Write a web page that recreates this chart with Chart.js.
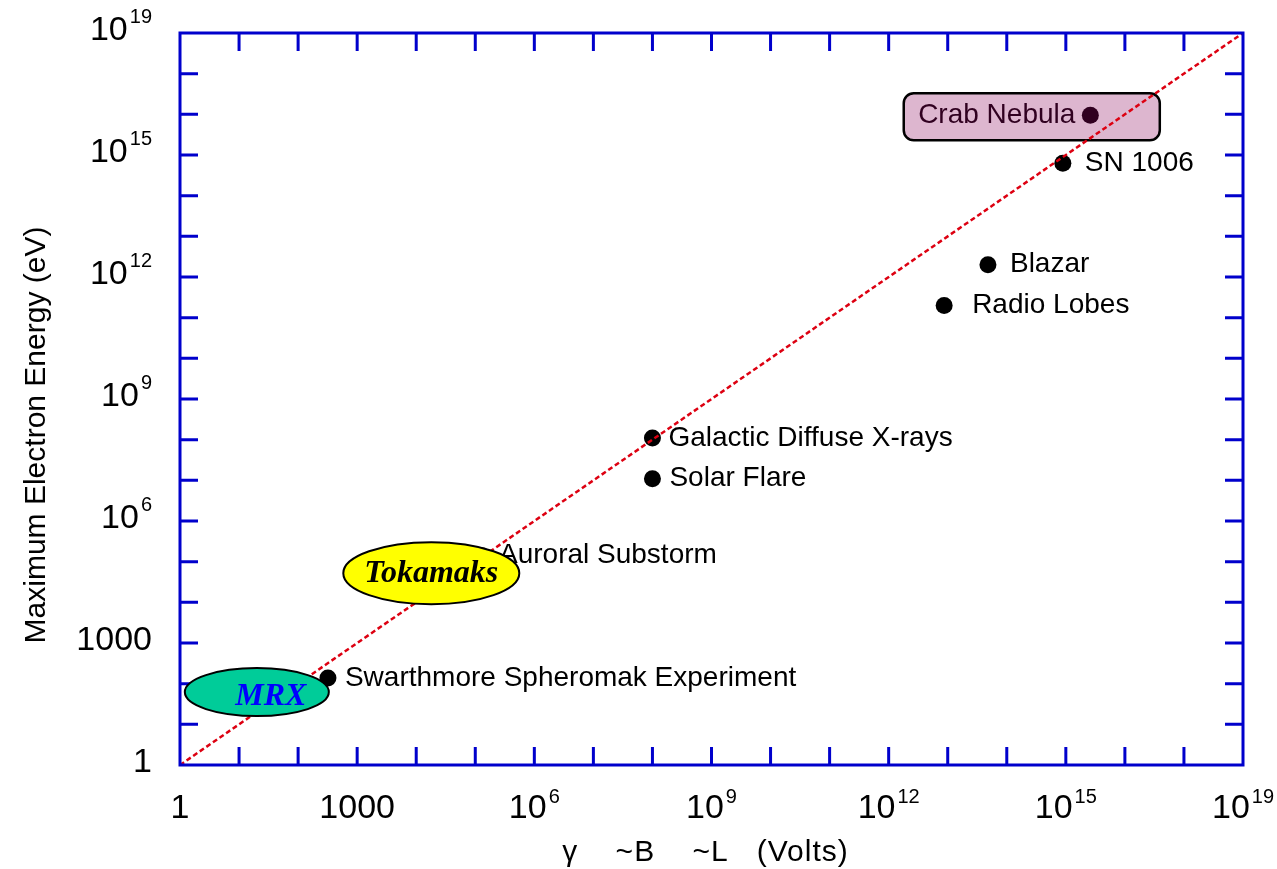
<!DOCTYPE html>
<html>
<head>
<meta charset="utf-8">
<script src="https://cdn.jsdelivr.net/npm/chart.js@4.4.1/dist/chart.umd.min.js"></script>
<style>
  html, body { margin: 0; padding: 0; background: #fff; }
  canvas { display: block; }
</style>
</head>
<body>
<canvas id="chart" width="1277" height="869"></canvas>
<script>
// ── Data ──────────────────────────────────────────────────────────
const sourceNames  = ['Crab Nebula', 'SN 1006', 'Blazar', 'Radio Lobes',
                      'Galactic Diffuse X-rays', 'Solar Flare', 'Auroral Substorm',
                      'Swarthmore Spheromak Experiment'];
const sourceVolts  = [2.6e15, 8.9e14, 4.8e13, 8.7e12, 1.0e8, 1.0e8, 1.3e5, 320];
const sourceEnergy = [9.5e15, 6.3e14, 2.0e12, 2.0e11, 1.1e8, 1.1e7, 1.4e5, 138];

const diagonalX = [1, 1e18];
const diagonalY = [1, 1e18];

const tickValues = [1, 1e3, 1e6, 1e9, 1e12, 1e15, 1e18];
const tickBase   = ['1', '1000', '10', '10', '10', '10', '10'];
const tickExp    = ['', '', '6', '9', '12', '15', '19'];

const xTitle = 'γ    ~B    ~L   (Volts)';
const yTitle = 'Maximum Electron Energy (eV)';

// ── Annotations (placed in data units) ────────────────────────────
const ellipses = [
    { text: 'Tokamaks', x: 1.8e4, y: 5.2e4, rx: 88, ry: 31, fill: '#ffff00', color: '#000', dx: 0, dy: 1 },
    { text: 'MRX',      x: 20,    y: 62,    rx: 72, ry: 24, fill: '#00cc99', color: '#0000ff', dx: 14, dy: 5 },
];
const crabBox = { x0: 1.8e12, x1: 3.9e16, y0: 3.3e16, y1: 2.3e15 };

// ── Style ─────────────────────────────────────────────────────────
const frameColor = '#0000cc';
const sansFont   = '"Liberation Sans", Arial, sans-serif';
const labelDx    = [-15, 22, 22, 28, 16, 17, 17, 17];

const overlay = {
    id: 'overlay',
    beforeDatasetsDraw(chart) {
        const { ctx, scales: { x, y } } = chart;
        const l = x.getPixelForValue(crabBox.x0), r = x.getPixelForValue(crabBox.x1);
        const t = y.getPixelForValue(crabBox.y0), b = y.getPixelForValue(crabBox.y1);
        ctx.save();
        ctx.beginPath();
        ctx.roundRect(l, t, r - l, b - t, 10);
        ctx.fillStyle = '#ddb6cf';
        ctx.fill();
        ctx.lineWidth = 2.5;
        ctx.strokeStyle = '#000';
        ctx.stroke();
        ctx.restore();
    },
    afterDatasetDraw(chart, args) {
        if (args.index !== 1) return;
        const ctx = chart.ctx;
        const meta = chart.getDatasetMeta(1);
        ctx.save();
        ctx.font = '28px ' + sansFont;
        ctx.textBaseline = 'middle';
        meta.data.forEach((pt, i) => {
            const dx = labelDx[i];
            ctx.textAlign = dx < 0 ? 'right' : 'left';
            ctx.fillStyle = i === 0 ? '#300020' : '#000';
            ctx.fillText(sourceNames[i], pt.x + dx, pt.y);
        });
        ctx.restore();
    },
    afterDatasetsDraw(chart) {
        const { ctx, chartArea: a, scales: { x, y } } = chart;
        ctx.save();

        // frame + inward decade ticks
        ctx.strokeStyle = frameColor;
        ctx.lineWidth = 3;
        ctx.strokeRect(a.left, a.top, a.right - a.left, a.bottom - a.top);
        ctx.beginPath();
        for (let e = 1; e < 18; e++) {
            const v = Math.pow(10, e);
            const px = x.getPixelForValue(v), py = y.getPixelForValue(v);
            ctx.moveTo(px, a.bottom); ctx.lineTo(px, a.bottom - 18);
            ctx.moveTo(px, a.top);    ctx.lineTo(px, a.top + 18);
            ctx.moveTo(a.left, py);   ctx.lineTo(a.left + 18, py);
            ctx.moveTo(a.right, py);  ctx.lineTo(a.right - 18, py);
        }
        ctx.stroke();

        // callout ellipses (over line and ticks)
        ellipses.forEach(e => {
            const cx = x.getPixelForValue(e.x), cy = y.getPixelForValue(e.y);
            ctx.beginPath();
            ctx.ellipse(cx, cy, e.rx, e.ry, 0, 0, Math.PI * 2);
            ctx.fillStyle = e.fill;
            ctx.fill();
            ctx.lineWidth = 2;
            ctx.strokeStyle = '#000';
            ctx.stroke();
            ctx.font = 'bold italic 32px "Liberation Serif", "Times New Roman", serif';
            ctx.fillStyle = e.color;
            ctx.textAlign = 'center';
            ctx.textBaseline = 'middle';
            ctx.fillText(e.text, cx + e.dx, cy + e.dy);
        });

        // tick labels with superscripts
        const baseFont = '34px ' + sansFont, expFont = '20px ' + sansFont;
        ctx.fillStyle = '#000';
        tickValues.forEach((v, i) => {
            ctx.font = baseFont;
            const wb = ctx.measureText(tickBase[i]).width;
            ctx.font = expFont;
            const we = tickExp[i] ? ctx.measureText(tickExp[i]).width + 2 : 0;
            const total = wb + we;

            // x axis
            const px = x.getPixelForValue(v);
            let sx = px - total / 2;
            ctx.textAlign = 'left';
            ctx.textBaseline = 'middle';
            ctx.font = baseFont;
            ctx.fillText(tickBase[i], sx, a.bottom + 44);
            if (tickExp[i]) {
                ctx.font = expFont;
                ctx.textBaseline = 'alphabetic';
                ctx.fillText(tickExp[i], sx + wb + 2, a.bottom + 38);
            }

            // y axis
            const py = y.getPixelForValue(v);
            sx = a.left - 28 - total;
            ctx.textBaseline = 'middle';
            ctx.font = baseFont;
            ctx.fillText(tickBase[i], sx, py - 2);
            if (tickExp[i]) {
                ctx.font = expFont;
                ctx.textBaseline = 'alphabetic';
                ctx.fillText(tickExp[i], sx + wb + 2, py - 10);
            }
        });

        // axis titles
        ctx.font = '30px ' + sansFont;
        ctx.textAlign = 'center';
        ctx.textBaseline = 'middle';
        ctx.letterSpacing = '1px';
        ctx.fillText(xTitle, (a.left + a.right) / 2 - 6, a.bottom + 88);
        ctx.letterSpacing = '0px';
        ctx.translate(37, 435);
        ctx.rotate(-Math.PI / 2);
        ctx.fillText(yTitle, 0, 0);
        ctx.restore();
    }
};

new Chart(document.getElementById('chart'), {
    type: 'scatter',
    data: {
        datasets: [
            {
                type: 'line',
                label: 'E = V',
                data: diagonalX.map((v, i) => ({ x: v, y: diagonalY[i] })),
                borderColor: '#dd0011',
                borderWidth: 2.5,
                borderDash: [5, 3],
                pointRadius: 0,
                fill: false,
                order: 0,
            },
            {
                label: 'Sources',
                data: sourceNames.map((n, i) => ({ x: sourceVolts[i], y: sourceEnergy[i] })),
                pointRadius: 8.5,
                pointBorderWidth: 0,
                backgroundColor: c => c.dataIndex === 0 ? '#300020' : '#000',
                borderColor: c => c.dataIndex === 0 ? '#300020' : '#000',
                order: 1,
            }
        ]
    },
    options: {
        responsive: false,
        animation: false,
        devicePixelRatio: 1,
        layout: { padding: { left: 180, right: 34, top: 33, bottom: 104 } },
        plugins: { legend: { display: false }, tooltip: { enabled: false } },
        scales: {
            x: { type: 'logarithmic', min: 1, max: 1e18, display: false },
            y: { type: 'logarithmic', min: 1, max: 1e18, display: false }
        }
    },
    plugins: [overlay]
});
</script>
</body>
</html>
